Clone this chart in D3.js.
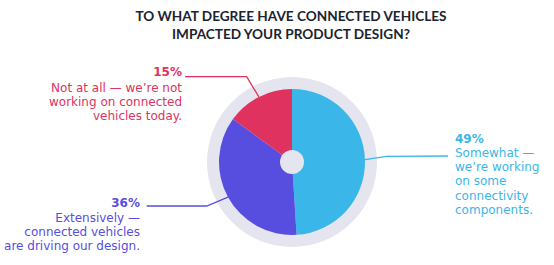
<!DOCTYPE html>
<html><head><meta charset="utf-8">
<script src="https://cdn.jsdelivr.net/npm/d3@7"></script>
<style>body{margin:0;background:#fff;}svg{display:block;}</style>
</head><body>
<svg id="c" width="554" height="265"></svg>
<script>
const titleLines = ["TO WHAT DEGREE HAVE CONNECTED VEHICLES", "IMPACTED YOUR PRODUCT DESIGN?"];
const categories = ["Somewhat", "Extensively", "Not at all"];
const values = [49, 36, 15];
const pctLabels = ["49%", "36%", "15%"];
const descLines = [
  ["Somewhat —", "we’re working", "on some", "connectivity", "components."],
  ["Extensively —", "connected vehicles", "are driving our design."],
  ["Not at all — we’re not", "working on connected", "vehicles today."]
];
const colors = ["#3bb6e8", "#574ee0", "#e0325e"];

const svg = d3.select("#c");
const cx = 292, cy = 162, R = 73, ringR = 85, holeR = 12;
const font = "Lato, 'Noto Sans', sans-serif";
const bodyFont = "'DejaVu Sans', sans-serif";

// title
svg.append("g").selectAll("text").data(titleLines).join("text")
  .attr("x", 291).attr("y", (d,i)=> 21 + i*18)
  .attr("text-anchor","middle")
  .attr("font-family", font).attr("font-weight", 700).attr("font-size", 13.6)
  .attr("fill","#1b2230").text(d=>d);

const g = svg.append("g").attr("transform", `translate(${cx},${cy})`);
g.append("circle").attr("r", ringR).attr("fill", "#e5e5ef");

const pie = d3.pie().sort(null).value(d=>d)(values);
const arc = d3.arc().innerRadius(0).outerRadius(R);
g.selectAll("path.s").data(pie).join("path").attr("class","s")
  .attr("d", arc).attr("fill", (d,i)=>colors[i]);
g.append("circle").attr("r", holeR).attr("fill", "#e5e5ef");

// label layout (positions only)
const layout = [
  {elbow:[386.7,156.3], end:[448,156], anchor:"start", tx:455, pctY:142.5, firstY:156.7},
  {elbow:[206.7,206], end:[146.7,206], anchor:"end", tx:140, pctY:206.5, firstY:221.5},
  {elbow:[246.7,76.7], end:[185,76.7], anchor:"end", tx:182, pctY:76, firstY:91.5}
];
const lh = 14.3;
pie.forEach((d,i)=>{
  const a = (d.startAngle + d.endAngle)/2;
  const p0 = [cx + R*Math.sin(a), cy - R*Math.cos(a)];
  const L = layout[i];
  svg.append("polyline")
    .attr("points", [p0, L.elbow, L.end].map(p=>p.join(",")).join(" "))
    .attr("fill","none").attr("stroke", colors[i]).attr("stroke-width", 1.3);
  svg.append("text").attr("x", L.tx).attr("y", L.pctY)
    .attr("text-anchor", L.anchor).attr("font-family", bodyFont).attr("font-weight", 700)
    .attr("font-size", 12).attr("fill", colors[i]).text(pctLabels[i]);
  svg.append("g").selectAll("text").data(descLines[i]).join("text")
    .attr("x", L.tx).attr("y", (t,j)=> L.firstY + j*lh)
    .attr("text-anchor", L.anchor).attr("font-family", bodyFont)
    .attr("font-size", 12).attr("fill", colors[i]).text(t=>t);
});
</script>
</body></html>
